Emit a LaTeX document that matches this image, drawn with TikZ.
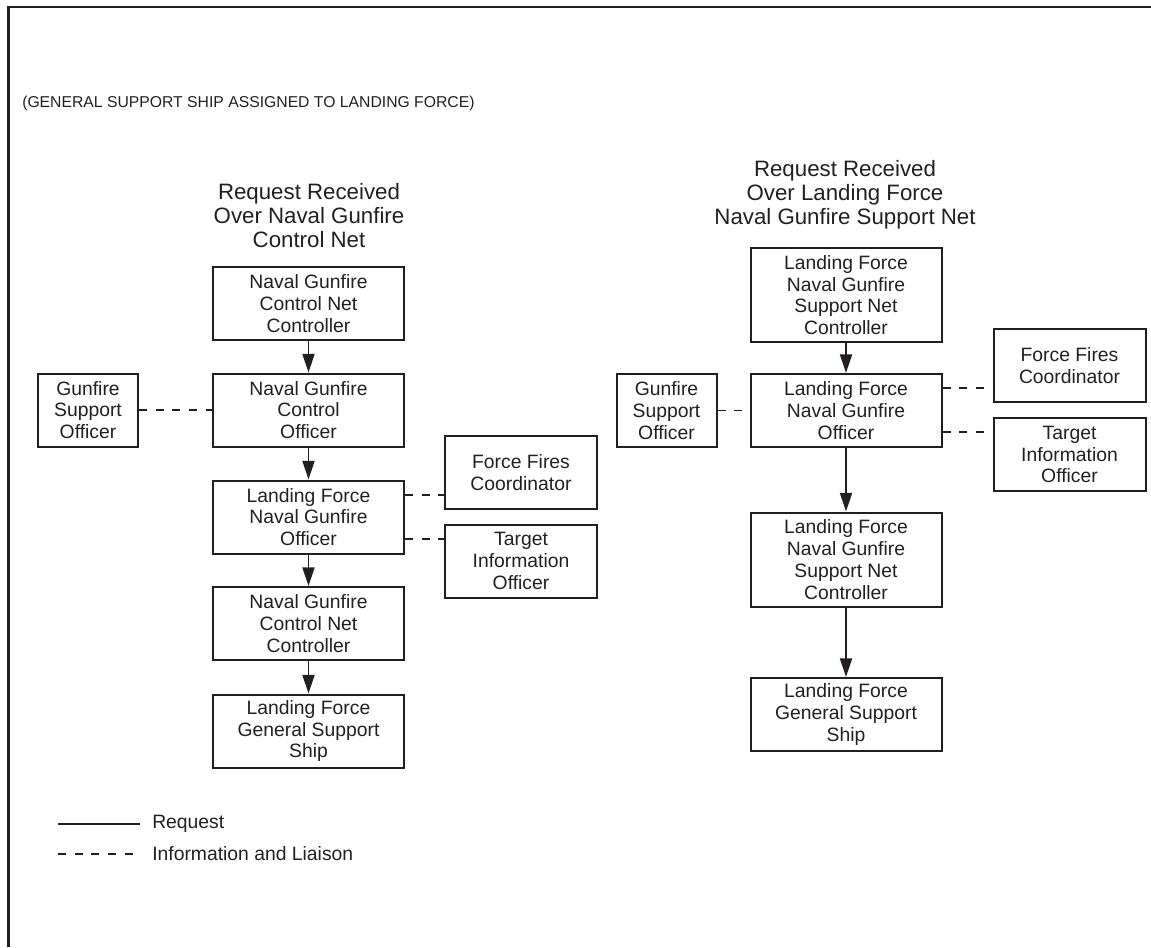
\documentclass[tikz,border=0pt]{standalone}
\usepackage{fontspec}
\setmainfont{Liberation Sans}
\usetikzlibrary{arrows.meta,calc}
\definecolor{ink}{RGB}{35,31,32}
\begin{document}
\begin{tikzpicture}[x=0.75pt,y=-0.75pt,
  every node/.style={text=ink},
  boxtext/.style={font=\fontsize{14.5}{16.3}\selectfont},
  box/.style={draw=ink, line width=1.5pt, boxtext, align=center, inner sep=0pt,
     minimum width=143.25pt, minimum height=54.75pt},
  tallbox/.style={box, minimum height=70.5pt},
  sidebox/.style={box, minimum width=75pt},
  widebox/.style={box, minimum width=114pt},
  title/.style={align=center, inner sep=0pt, font=\fontsize{16.7}{18}\selectfont},
  arr/.style={draw=ink, line width=1.4pt, -{Triangle[length=14pt,width=9pt]}},
  liaison/.style={draw=ink, line width=1.4pt, dash pattern=on 6pt off 6.5pt},
  request/.style={draw=ink, line width=1.4pt}
]
\useasboundingbox (0,0) rectangle (1151,947);
% frame
\coordinate (fbl) at (8.5,947);
\coordinate (ftl) at (8.5,7);
\coordinate (ftr) at (1151,7);
\draw[draw=ink, line width=2pt] (fbl) -- (ftl) -- (ftr);

\node[anchor=west, inner sep=0pt, font=\fontsize{11.8}{14}\selectfont] (hdr) at (22,103)
  {(GENERAL SUPPORT SHIP ASSIGNED TO LANDING FORCE)};

% left column
\node[title] (tl) at (309,215.5) {Request Received\\Over Naval Gunfire\\Control Net};
\node[box] (L1) at (308.5,303.5) {Naval Gunfire\\Control Net\\Controller};
\node[box] (L2) at (308.5,410) {Naval Gunfire\\Control\\Officer};
\node[box] (L3) at (308.5,517) {Landing Force\\Naval Gunfire\\Officer};
\node[box] (L4) at (308.5,623.5) {Naval Gunfire\\Control Net\\Controller};
\node[box] (L5) at (308.5,731) {Landing Force\\General Support\\Ship};
\node[sidebox] (GSOL) at (88,410) {Gunfire\\Support\\Officer};
\node[widebox] (FFCL) at (521,472.5) {Force Fires\\Coordinator};
\node[widebox] (TIOL) at (521,561) {Target\\Information\\Officer};

\draw[arr] (L1) -- (L2);
\draw[arr] (L2) -- (L3);
\draw[arr] (L3) -- (L4);
\draw[arr] (L4) -- (L5);
\draw[liaison] (GSOL.east) -- (L2.west);
\draw[liaison] ($(L3.east)+(0,-22)$) coordinate (a1) -- (a1 -| FFCL.west);
\draw[liaison] ($(L3.east)+(0,22)$) coordinate (a2) -- (a2 -| TIOL.west);

% right column
\node[title] (tr) at (845,194.5) {Request Received\\Over Landing Force\\Naval Gunfire Support Net};
\node[tallbox] (R1) at (846,295) {Landing Force\\Naval Gunfire\\Support Net\\Controller};
\node[box] (R2) at (846,410.5) {Landing Force\\Naval Gunfire\\Officer};
\node[tallbox] (R3) at (846,559.5) {Landing Force\\Naval Gunfire\\Support Net\\Controller};
\node[box] (R4) at (846,714.5) {Landing Force\\General Support\\Ship};
\node[sidebox] (GSOR) at (666.5,410.5) {Gunfire\\Support\\Officer};
\node[widebox] (FFCR) at (1069.5,365.5) {Force Fires\\Coordinator};
\node[widebox] (TIOR) at (1069.5,454.5) {Target\\Information\\Officer};

\draw[arr] (R1) -- (R2);
\draw[arr] (R2) -- (R3);
\draw[arr] (R3) -- (R4);
\draw[liaison] (GSOR.east) -- (R2.west);
\draw[liaison] ($(R2.east)+(0,-22.5)$) coordinate (b1) -- (b1 -| FFCR.west);
\draw[liaison] ($(R2.east)+(0,21.5)$) coordinate (b2) -- (b2 -| TIOR.west);

% legend
\coordinate (ls1) at (58,824);
\coordinate (ls2) at (140,824);
\coordinate (ld1) at (58,854);
\coordinate (ld2) at (140,854);
\draw[request] (ls1) -- (ls2);
\draw[liaison] (ld1) -- (ld2);
\node[anchor=west, inner sep=0pt, boxtext] (lgr) at (152,824) {Request};
\node[anchor=west, inner sep=0pt, boxtext] (lgi) at (152,854) {Information and Liaison};
\end{tikzpicture}
\end{document}
